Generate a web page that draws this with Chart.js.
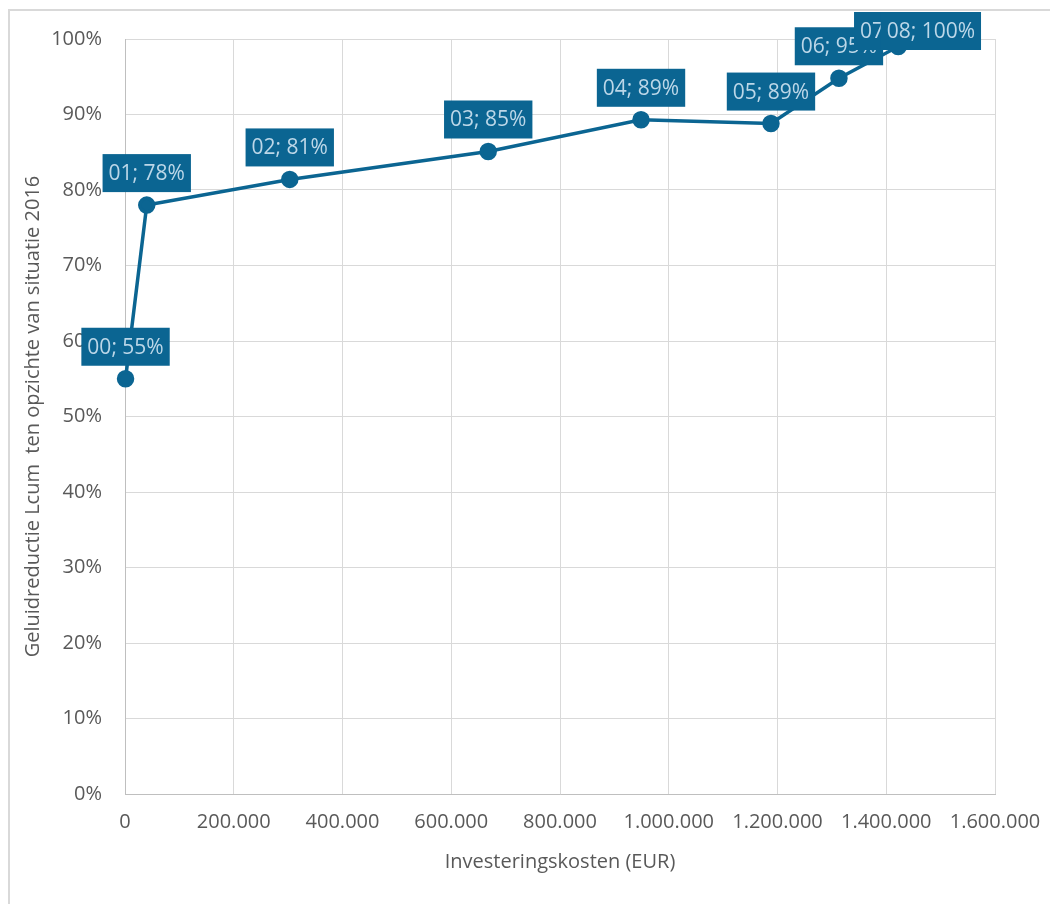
<!DOCTYPE html>
<html>
<head>
<meta charset="utf-8">
<title>Geluidreductie vs investeringskosten</title>
<script src="https://cdn.jsdelivr.net/npm/chart.js@4.4.1/dist/chart.umd.min.js"></script>
<style>
    html, body { margin: 0; padding: 0; background: #ffffff; overflow: hidden; }
    #frame {
        position: absolute; left: 8px; top: 9px; width: 1200px; height: 1100px;
        border-left: 2px solid #d9d9d9; border-top: 2px solid #d9d9d9;
    }
    #wrap { position: absolute; left: 0; top: 0; width: 1050px; height: 904px; }
</style>
</head>
<body>
<div id="frame"></div>
<div id="wrap"><canvas id="costChart" width="1050" height="904"></canvas></div>
<script>
var variantNames = ["00", "01", "02", "03", "04", "05", "06", "07", "08"];
var investmentCosts = [1000, 40000, 303000, 668000, 949000, 1188000, 1313000, 1422000, 1482000];
var noiseReduction = [0.55, 0.78, 0.814, 0.851, 0.893, 0.888, 0.948, 0.99, 1.0];
var xTicks = [0, 200000, 400000, 600000, 800000, 1000000, 1200000, 1400000, 1600000];
var yTicks = [0, 0.1, 0.2, 0.3, 0.4, 0.5, 0.6, 0.7, 0.8, 0.9, 1.0];

var mainBlue = '#0b6592';
var labelText = '#bcd7e8';
var fontFamily = "'Open Sans', 'Noto Sans', sans-serif";

function formatThousands(value) {
    return Math.round(value).toString().replace(/\B(?=(\d{3})+(?!\d))/g, ".");
}

// Excel-style data labels: dark box above each point with "name; value"
var boxLabels = {
    id: 'boxLabels',
    afterDatasetsDraw: function (chart) {
        var ctx = chart.ctx;
        var meta = chart.getDatasetMeta(0);
        ctx.save();
        ctx.font = "21px " + fontFamily;
        ctx.textBaseline = 'middle';
        ctx.textAlign = 'center';
        meta.data.forEach(function (pt, i) {
            var text = variantNames[i] + "; " + Math.round(noiseReduction[i] * 100) + "%";
            var w = ctx.measureText(text).width + 12;
            var h = 38;
            var bottom = pt.y - 13;
            var top = Math.max(bottom - h, 12);
            ctx.fillStyle = mainBlue;
            ctx.fillRect(pt.x - w / 2, top, w, h);
            ctx.fillStyle = labelText;
            ctx.fillText(text, pt.x, top + h / 2 + 1);
        });
        ctx.restore();
    }
};

document.addEventListener("DOMContentLoaded", function () {
    var points = investmentCosts.map(function (x, i) {
        return { x: x, y: noiseReduction[i] };
    });

    var ctx = document.getElementById('costChart').getContext('2d');

    new Chart(ctx, {
        type: 'line',
        data: {
            datasets: [{
                label: 'Geluidreductie',
                data: points,
                borderColor: mainBlue,
                backgroundColor: mainBlue,
                borderWidth: 3.5,
                pointRadius: 7,
                pointHoverRadius: 7,
                pointBackgroundColor: mainBlue,
                pointBorderColor: mainBlue,
                tension: 0,
                clip: false
            }]
        },
        options: {
            responsive: false,
            animation: false,
            layout: {
                padding: { left: 10, top: 39, right: 55, bottom: 0 }
            },
            plugins: {
                legend: { display: false },
                tooltip: { enabled: false }
            },
            scales: {
                x: {
                    type: 'linear',
                    min: 0,
                    max: 1600000,
                    afterBuildTicks: function (scale) {
                        scale.ticks = xTicks.map(function (v) { return { value: v }; });
                    },
                    afterFit: function (scale) {
                        scale.height = 110;
                        scale.paddingLeft = 0;
                        scale.paddingRight = 0;
                    },
                    grid: { color: '#d9d9d9', lineWidth: 1, drawTicks: false },
                    border: { color: '#bfbfbf', width: 1 },
                    ticks: {
                        color: '#595959',
                        padding: 16,
                        maxRotation: 0,
                        autoSkip: false,
                        font: { family: fontFamily, size: 20 },
                        callback: function (value) { return formatThousands(value); }
                    },
                    title: {
                        display: true,
                        text: 'Investeringskosten (EUR)',
                        color: '#595959',
                        font: { family: fontFamily, size: 20 },
                        padding: { top: 0, bottom: 30 }
                    }
                },
                y: {
                    type: 'linear',
                    min: 0,
                    max: 1,
                    afterBuildTicks: function (scale) {
                        scale.ticks = yTicks.map(function (v) { return { value: v }; });
                    },
                    afterFit: function (scale) {
                        scale.width = 115;
                        scale.paddingTop = 0;
                        scale.paddingBottom = 0;
                    },
                    grid: { color: '#d9d9d9', lineWidth: 1, drawTicks: false },
                    border: { color: '#bfbfbf', width: 1 },
                    ticks: {
                        color: '#595959',
                        padding: 23,
                        autoSkip: false,
                        font: { family: fontFamily, size: 20 },
                        callback: function (value) { return Math.round(value * 100) + "%"; }
                    },
                    title: {
                        display: true,
                        text: 'Geluidreductie Lcum  ten opzichte van situatie 2016',
                        color: '#595959',
                        font: { family: fontFamily, size: 20 },
                        padding: { top: 11, bottom: 0 }
                    }
                }
            }
        },
        plugins: [boxLabels]
    });
});
</script>
</body>
</html>
